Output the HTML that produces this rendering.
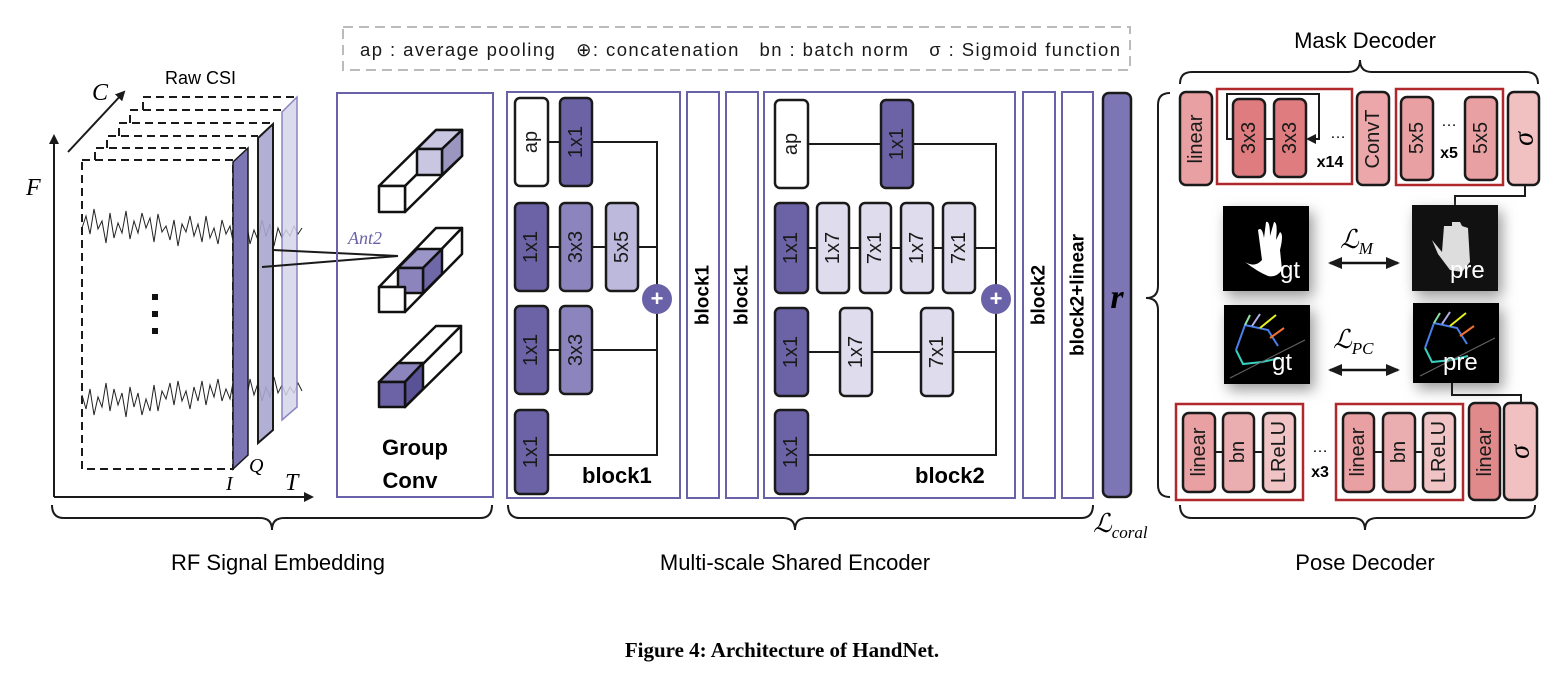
<!DOCTYPE html>
<html><head><meta charset="utf-8"><style>
html,body{margin:0;padding:0;background:#fff;}
svg{display:block;font-family:"Liberation Sans",sans-serif;}
.b{stroke:#1a1a1a;stroke-width:2.5;}
.t{font-size:20px;fill:#1a1a1a;}
.pb{fill:none;stroke:#6a62a8;stroke-width:2;}
.ln{stroke:#1a1a1a;stroke-width:2;fill:none;}
.br{fill:none;stroke:#1a1a1a;stroke-width:2;}
.rb{fill:none;stroke:#b0282c;stroke-width:2.5;}
</style></head><body>
<svg width="1561" height="687" viewBox="0 0 1561 687" xmlns="http://www.w3.org/2000/svg">
<defs>
<marker id="ah" markerWidth="10" markerHeight="10" refX="8" refY="5" orient="auto" markerUnits="userSpaceOnUse"><path d="M0,0 L10,5 L0,10 z" fill="#1a1a1a"/></marker>
<marker id="ah2" markerWidth="14" markerHeight="12" refX="12" refY="6" orient="auto-start-reverse" markerUnits="userSpaceOnUse"><path d="M0,0 L14,6 L0,12 z" fill="#1a1a1a"/></marker>
<filter id="sh" x="-40%" y="-40%" width="180%" height="180%"><feGaussianBlur stdDeviation="7"/></filter>
</defs>

<!-- legend -->
<rect x="343" y="27" width="787" height="43" fill="none" stroke="#bbb" stroke-width="2" stroke-dasharray="10,6"/>
<text x="360" y="56" font-size="18.5" fill="#1a1a1a" textLength="760" lengthAdjust="spacing">ap : average pooling &#160;&#160;⊕: concatenation &#160;&#160;bn : batch norm &#160;&#160;σ : Sigmoid function</text>

<!-- LEFT: RF signal embedding -->
<line x1="54" y1="497" x2="54" y2="136" class="ln" marker-end="url(#ah)"/>
<line x1="54" y1="497" x2="312" y2="497" class="ln" marker-end="url(#ah)"/>
<line x1="68" y1="152" x2="124" y2="92" class="ln" marker-end="url(#ah)"/>
<text x="26" y="195" font-family="Liberation Serif,serif" font-style="italic" font-size="24">F</text>
<text x="92" y="100" font-family="Liberation Serif,serif" font-style="italic" font-size="24">C</text>
<text x="285" y="490" font-family="Liberation Serif,serif" font-style="italic" font-size="24">T</text>
<text x="226" y="490" font-family="Liberation Serif,serif" font-style="italic" font-size="20">I</text>
<text x="249" y="472" font-family="Liberation Serif,serif" font-style="italic" font-size="20">Q</text>
<text x="165" y="84" font-size="18">Raw CSI</text>
<g fill="none" stroke="#1a1a1a" stroke-width="2" stroke-dasharray="8,5">
<path d="M95 160 V148 H246"/>
<path d="M107 148 V136 H258"/>
<path d="M119 136 V123 H270"/>
<path d="M130 123 V110 H282"/>
<path d="M143 110 V97 H295"/>
<rect x="82" y="160" width="151" height="309"/>
</g>
<path d="M82 228 l4 -12 l4 18 l4 -25 l4 20 l4 -8 l4 22 l4 -30 l4 25 l4 -15 l4 10 l4 -22 l4 28 l4 -18 l4 12 l4 -20 l4 15 l4 -10 l4 24 l4 -28 l4 18 l4 -6 l4 14 l4 -20 l4 26 l4 -22 l4 8 l4 -16 l4 20 l4 -12 l4 18 l4 -26 l4 22 l4 -10 l4 16 l4 -24 l4 14 l4 -8 l4 20 l4 -18 l4 12 l4 -22 l4 26 l4 -14 l4 10 l4 -20 l4 16 l4 -12 l4 22 l4 -18 l4 10 l4 -8 l4 6 l4 -10 l4 8 l4 -6" fill="none" stroke="#222" stroke-width="1"/>
<path d="M82 395 l4 14 l4 -20 l4 26 l4 -18 l4 10 l4 -24 l4 28 l4 -22 l4 16 l4 -12 l4 24 l4 -30 l4 20 l4 -14 l4 22 l4 -16 l4 12 l4 -26 l4 26 l4 -20 l4 8 l4 -16 l4 22 l4 -24 l4 20 l4 -10 l4 18 l4 -22 l4 14 l4 -20 l4 24 l4 -20 l4 12 l4 -18 l4 22 l4 -12 l4 10 l4 -22 l4 20 l4 -14 l4 20 l4 -24 l4 16 l4 -12 l4 18 l4 -14 l4 10 l4 -20 l4 16 l4 -8 l4 10 l4 -8 l4 6 l4 -10 l4 8" fill="none" stroke="#222" stroke-width="1"/>
<rect x="152" y="294" width="6" height="6" fill="#111"/>
<rect x="152" y="311" width="6" height="6" fill="#111"/>
<rect x="152" y="328" width="6" height="6" fill="#111"/>
<polygon points="282,112 297,97 297,407 282,420" fill="#d6d4ea" fill-opacity="0.85" stroke="#8a84c0" stroke-width="1.5"/>
<polygon points="258,138 273,124 273,430 258,443" fill="#aaa6d0" fill-opacity="0.9" stroke="#1a1a1a" stroke-width="2"/>
<polygon points="233,162 248,148 248,455 233,469" fill="#7d76b5" stroke="#1a1a1a" stroke-width="1.5"/>
<line x1="273" y1="250" x2="398" y2="256" stroke="#1a1a1a" stroke-width="2"/>
<line x1="262" y1="267" x2="398" y2="256" stroke="#1a1a1a" stroke-width="2"/>

<!-- Group conv -->
<rect x="337" y="93" width="156" height="404" class="pb"/>
<text x="348" y="244" font-family="Liberation Serif,serif" font-style="italic" font-size="18" fill="#6a62a8">Ant2</text>
<g stroke="#111" stroke-width="2.5" stroke-linejoin="round">
<polygon points="379,186 436,130 462,130 405,186" fill="#fff"/>
<polygon points="405,186 462,130 462,156 405,212" fill="#fff"/>
<polygon points="417,149 436,130 462,130 442,149" fill="#c9c6e2"/>
<polygon points="442,149 462,130 462,156 442,175" fill="#9a96c0"/>
<rect x="417" y="149" width="25" height="26" fill="#c9c6e2"/>
<rect x="379" y="186" width="26" height="26" fill="#fff"/>
<polygon points="379,287 436,228 462,228 405,287" fill="#fff"/>
<polygon points="405,287 462,228 462,254 405,312" fill="#fff"/>
<polygon points="398,268 417,249 442,249 423,268" fill="#9a96c8"/>
<polygon points="423,268 442,249 442,274 423,293" fill="#6f68a8"/>
<rect x="398" y="268" width="25" height="25" fill="#8c85bd"/>
<rect x="379" y="287" width="26" height="25" fill="#fff"/>
<polygon points="379,382 436,326 461,326 405,382" fill="#fff"/>
<polygon points="405,382 461,326 461,352 405,407" fill="#fff"/>
<polygon points="379,382 398,363 423,363 405,382" fill="#8c85bd"/>
<polygon points="405,382 423,363 423,389 405,407" fill="#5a5296"/>
<rect x="379" y="382" width="26" height="25" fill="#6b63a6"/>
</g>
<text x="415" y="455" text-anchor="middle" font-weight="bold" font-size="22">Group</text>
<text x="410" y="488" text-anchor="middle" font-weight="bold" font-size="22">Conv</text>

<!-- Block1 -->
<rect x="507" y="92" width="173" height="406" class="pb"/>
<g class="ln">
<path d="M592 142 H657 V455 H548"/>
<line x1="548" y1="247" x2="657" y2="247"/>
<line x1="548" y1="350" x2="657" y2="350"/>
<line x1="548" y1="142" x2="560" y2="142"/>
</g>
<g class="b">
<rect x="515" y="98" width="33" height="88" rx="5" fill="#fff"/>
<rect x="560" y="98" width="32" height="88" rx="5" fill="#6b63a6"/>
<rect x="515" y="203" width="33" height="88" rx="5" fill="#6b63a6"/>
<rect x="560" y="203" width="32" height="88" rx="5" fill="#8c85bd"/>
<rect x="606" y="203" width="32" height="88" rx="5" fill="#bdb9dc"/>
<rect x="515" y="306" width="33" height="88" rx="5" fill="#6b63a6"/>
<rect x="560" y="306" width="32" height="88" rx="5" fill="#8c85bd"/>
<rect x="515" y="410" width="33" height="84" rx="5" fill="#6b63a6"/>
</g>
<circle cx="657" cy="299" r="15" fill="#6a62a8"/>
<text x="657" y="306" text-anchor="middle" fill="#fff" font-size="22" font-weight="bold">+</text>
<g class="t" text-anchor="middle" dominant-baseline="central">
<text transform="translate(531,142) rotate(-90)">ap</text>
<text transform="translate(576,142) rotate(-90)">1x1</text>
<text transform="translate(531,247) rotate(-90)">1x1</text>
<text transform="translate(576,247) rotate(-90)">3x3</text>
<text transform="translate(622,247) rotate(-90)">5x5</text>
<text transform="translate(531,350) rotate(-90)">1x1</text>
<text transform="translate(576,350) rotate(-90)">3x3</text>
<text transform="translate(531,452) rotate(-90)">1x1</text>
</g>
<text x="582" y="483" font-weight="bold" font-size="22">block1</text>

<rect x="687" y="92" width="32" height="406" class="pb"/>
<rect x="726" y="92" width="32" height="406" class="pb"/>
<text transform="translate(703,295) rotate(-90)" text-anchor="middle" dominant-baseline="central" font-weight="bold" font-size="19">block1</text>
<text transform="translate(742,295) rotate(-90)" text-anchor="middle" dominant-baseline="central" font-weight="bold" font-size="19">block1</text>

<!-- Block2 -->
<rect x="764" y="92" width="251" height="406" class="pb"/>
<g class="ln">
<path d="M808 144 H881 M913 144 H996 V455 H808"/>
<line x1="808" y1="248" x2="996" y2="248"/>
<line x1="808" y1="352" x2="996" y2="352"/>
</g>
<g class="b">
<rect x="775" y="100" width="33" height="88" rx="5" fill="#fff"/>
<rect x="881" y="100" width="32" height="88" rx="5" fill="#6b63a6"/>
<rect x="775" y="203" width="33" height="90" rx="5" fill="#6b63a6"/>
<rect x="817" y="203" width="32" height="90" rx="5" fill="#dfdded"/>
<rect x="860" y="203" width="31" height="90" rx="5" fill="#dfdded"/>
<rect x="901" y="203" width="32" height="90" rx="5" fill="#dfdded"/>
<rect x="943" y="203" width="32" height="90" rx="5" fill="#dfdded"/>
<rect x="775" y="308" width="33" height="88" rx="5" fill="#6b63a6"/>
<rect x="840" y="308" width="32" height="88" rx="5" fill="#dfdded"/>
<rect x="921" y="308" width="32" height="88" rx="5" fill="#dfdded"/>
<rect x="775" y="410" width="33" height="84" rx="5" fill="#6b63a6"/>
</g>
<circle cx="996" cy="299" r="15" fill="#6a62a8"/>
<text x="996" y="306" text-anchor="middle" fill="#fff" font-size="22" font-weight="bold">+</text>
<g class="t" text-anchor="middle" dominant-baseline="central">
<text transform="translate(791,144) rotate(-90)">ap</text>
<text transform="translate(897,144) rotate(-90)">1x1</text>
<text transform="translate(791,248) rotate(-90)">1x1</text>
<text transform="translate(833,248) rotate(-90)">1x7</text>
<text transform="translate(875,248) rotate(-90)">7x1</text>
<text transform="translate(917,248) rotate(-90)">1x7</text>
<text transform="translate(959,248) rotate(-90)">7x1</text>
<text transform="translate(791,352) rotate(-90)">1x1</text>
<text transform="translate(856,352) rotate(-90)">1x7</text>
<text transform="translate(937,352) rotate(-90)">7x1</text>
<text transform="translate(791,452) rotate(-90)">1x1</text>
</g>
<text x="915" y="483" font-weight="bold" font-size="22">block2</text>

<rect x="1023" y="92" width="32" height="406" class="pb"/>
<rect x="1062" y="92" width="31" height="406" class="pb"/>
<text transform="translate(1039,295) rotate(-90)" text-anchor="middle" dominant-baseline="central" font-weight="bold" font-size="19">block2</text>
<text transform="translate(1078,295) rotate(-90)" text-anchor="middle" dominant-baseline="central" font-weight="bold" font-size="19">block2+linear</text>

<!-- r bar -->
<rect x="1103" y="93" width="28" height="404" rx="6" fill="#7d76b5" stroke="#1a1a1a" stroke-width="2.5"/>
<text x="1117" y="308" text-anchor="middle" font-family="Liberation Serif,serif" font-style="italic" font-weight="bold" font-size="34">r</text>
<text x="1093" y="532" font-family="Liberation Serif,serif" font-style="italic" font-size="26">ℒ<tspan font-size="17" dy="6">coral</tspan></text>

<!-- Right panel braces -->
<path class="br" d="M1180 84 Q1180 72 1192 72 L1348 72 Q1360 72 1360 60 Q1360 72 1372 72 L1526 72 Q1538 72 1538 84"/>
<text x="1365" y="48" text-anchor="middle" font-size="22">Mask Decoder</text>
<path class="br" d="M1170 93 Q1158 93 1158 105 L1158 286 Q1158 298 1146 298 Q1158 298 1158 310 L1158 485 Q1158 497 1170 497"/>

<!-- Top row mask decoder -->
<rect x="1217" y="89" width="135" height="95" class="rb"/>
<rect x="1396" y="89" width="107" height="96" class="rb"/>
<g class="b">
<rect x="1180" y="92" width="32" height="93" rx="6" fill="#e8a0a2"/>
<rect x="1233" y="99" width="32" height="78" rx="6" fill="#de7c7f"/>
<rect x="1274" y="99" width="32" height="78" rx="6" fill="#de7c7f"/>
<rect x="1357" y="92" width="32" height="93" rx="6" fill="#eba7a9"/>
<rect x="1401" y="97" width="32" height="83" rx="6" fill="#e8a0a2"/>
<rect x="1465" y="97" width="32" height="83" rx="6" fill="#e8a0a2"/>
<rect x="1508" y="92" width="31" height="93" rx="6" fill="#f1c0c1"/>
</g>
<path d="M1233 139 H1227 V94 H1319 V139 H1308" fill="none" stroke="#1a1a1a" stroke-width="2" marker-end="url(#ah)"/>
<line x1="1265" y1="139" x2="1274" y2="139" class="ln"/>
<text x="1338" y="138" text-anchor="middle" font-size="16">…</text>
<text x="1330" y="167" text-anchor="middle" font-weight="bold" font-size="16">x14</text>
<text x="1449" y="126" text-anchor="middle" font-size="16">…</text>
<text x="1449" y="158" text-anchor="middle" font-weight="bold" font-size="16">x5</text>
<g class="t" text-anchor="middle" dominant-baseline="central">
<text transform="translate(1196,139) rotate(-90)">linear</text>
<text transform="translate(1249,138) rotate(-90)">3x3</text>
<text transform="translate(1290,138) rotate(-90)">3x3</text>
<text transform="translate(1373,139) rotate(-90)">ConvT</text>
<text transform="translate(1417,138) rotate(-90)">5x5</text>
<text transform="translate(1481,138) rotate(-90)">5x5</text>
</g>
<text transform="translate(1524,139) rotate(-90)" text-anchor="middle" dominant-baseline="central" font-family="Liberation Serif,serif" font-style="italic" font-size="28">σ</text>
<path d="M1525 185 V196 H1455 V206" class="ln"/>

<!-- images -->
<g filter="url(#sh)" fill="#999">
<rect x="1227" y="212" width="86" height="85"/>
<rect x="1416" y="211" width="86" height="86"/>
<rect x="1228" y="311" width="86" height="79"/>
<rect x="1417" y="309" width="86" height="80"/>
</g>
<rect x="1223" y="206" width="86" height="85" fill="#000"/>
<path d="M1245 262 Q1255 268 1262 260 L1258 230 Q1262 226 1264 238 L1266 222 Q1270 220 1270 236 L1274 222 Q1278 222 1276 240 L1280 232 Q1284 234 1280 250 L1282 270 Q1276 278 1268 276 Q1258 272 1245 262 Z" fill="#fff"/>
<text x="1280" y="278" fill="#fff" font-size="24">gt</text>
<rect x="1412" y="205" width="86" height="86" fill="#111"/>
<path d="M1432 240 L1442 252 L1444 226 L1452 226 L1452 222 L1460 222 L1462 226 L1468 228 L1470 262 L1462 272 L1450 270 L1438 254 Z" fill="#ddd"/>
<text x="1450" y="278" fill="#fff" font-size="24">pre</text>
<text x="1340" y="248" font-family="Liberation Serif,serif" font-style="italic" font-size="26">ℒ<tspan font-size="17" dy="6" font-style="italic">M</tspan></text>
<line x1="1330" y1="263" x2="1398" y2="263" stroke="#111" stroke-width="2.5" marker-start="url(#ah2)" marker-end="url(#ah2)"/>
<rect x="1224" y="305" width="86" height="79" fill="#000"/>
<g stroke-width="2" fill="none">
<path d="M1236 350 L1243 364 L1262 362 L1280 358" stroke="#3ad0c0"/>
<path d="M1236 350 L1245 325 L1268 330 L1278 346" stroke="#4a7fe8"/>
<path d="M1245 325 L1250 315" stroke="#8fe0a0"/>
<path d="M1252 326 L1260 314" stroke="#b0b0e8"/>
<path d="M1260 328 L1276 315" stroke="#e8f020"/>
<path d="M1270 338 L1284 328" stroke="#f07030"/>
<line x1="1230" y1="378" x2="1305" y2="340" stroke="#666" stroke-width="1"/>
</g>
<text x="1272" y="370" fill="#fff" font-size="24">gt</text>
<rect x="1413" y="303" width="86" height="80" fill="#000"/>
<g stroke-width="2" fill="none">
<path d="M1425 348 L1432 362 L1452 360 L1468 356" stroke="#3ad0c0"/>
<path d="M1425 348 L1434 323 L1457 328 L1467 344" stroke="#4a7fe8"/>
<path d="M1434 323 L1440 313" stroke="#8fe0a0"/>
<path d="M1442 324 L1450 312" stroke="#b0b0e8"/>
<path d="M1450 326 L1466 313" stroke="#e8f020"/>
<path d="M1460 336 L1474 326" stroke="#f07030"/>
<line x1="1420" y1="376" x2="1495" y2="338" stroke="#666" stroke-width="1"/>
</g>
<text x="1443" y="370" fill="#fff" font-size="24">pre</text>
<text x="1333" y="348" font-family="Liberation Serif,serif" font-style="italic" font-size="26">ℒ<tspan font-size="17" dy="6">PC</tspan></text>
<line x1="1330" y1="370" x2="1398" y2="370" stroke="#111" stroke-width="2.5" marker-start="url(#ah2)" marker-end="url(#ah2)"/>
<path d="M1452 383 V395 H1521 V403" class="ln"/>

<!-- bottom row pose decoder -->
<rect x="1176" y="404" width="127" height="96" class="rb"/>
<rect x="1336" y="404" width="127" height="96" class="rb"/>
<line x1="1215" y1="452" x2="1263" y2="452" class="ln"/>
<line x1="1374" y1="452" x2="1423" y2="452" class="ln"/>
<g class="b">
<rect x="1183" y="413" width="32" height="79" rx="6" fill="#e8a0a2"/>
<rect x="1223" y="413" width="31" height="79" rx="6" fill="#ebaeb0"/>
<rect x="1263" y="413" width="32" height="79" rx="6" fill="#f0c4c5"/>
<rect x="1343" y="413" width="31" height="79" rx="6" fill="#e8a0a2"/>
<rect x="1383" y="413" width="32" height="79" rx="6" fill="#ebaeb0"/>
<rect x="1423" y="413" width="32" height="79" rx="6" fill="#f0c4c5"/>
<rect x="1469" y="403" width="31" height="97" rx="6" fill="#e08a8c"/>
<rect x="1504" y="403" width="33" height="97" rx="6" fill="#f1c0c1"/>
</g>
<g class="t" text-anchor="middle" dominant-baseline="central">
<text transform="translate(1199,452) rotate(-90)">linear</text>
<text transform="translate(1238,452) rotate(-90)">bn</text>
<text transform="translate(1279,452) rotate(-90)">LReLU</text>
<text transform="translate(1358,452) rotate(-90)">linear</text>
<text transform="translate(1399,452) rotate(-90)">bn</text>
<text transform="translate(1439,452) rotate(-90)">LReLU</text>
<text transform="translate(1485,452) rotate(-90)">linear</text>
</g>
<text transform="translate(1520,452) rotate(-90)" text-anchor="middle" dominant-baseline="central" font-family="Liberation Serif,serif" font-style="italic" font-size="28">σ</text>
<text x="1320" y="452" text-anchor="middle" font-size="16">…</text>
<text x="1320" y="477" text-anchor="middle" font-weight="bold" font-size="16">x3</text>

<!-- bottom braces -->
<path class="br" d="M52 505 Q52 518 64 518 L260 518 Q272 518 272 530 Q272 518 284 518 L480 518 Q492 518 492 505"/>
<text x="278" y="570" text-anchor="middle" font-size="22">RF Signal Embedding</text>
<path class="br" d="M508 505 Q508 518 520 518 L783 518 Q795 518 795 530 Q795 518 807 518 L1081 518 Q1093 518 1093 505"/>
<text x="795" y="570" text-anchor="middle" font-size="22">Multi-scale Shared Encoder</text>
<path class="br" d="M1180 505 Q1180 518 1192 518 L1353 518 Q1365 518 1365 530 Q1365 518 1377 518 L1523 518 Q1535 518 1535 505"/>
<text x="1365" y="570" text-anchor="middle" font-size="22">Pose Decoder</text>

<text x="782" y="657" text-anchor="middle" font-family="Liberation Serif,serif" font-weight="bold" font-size="21">Figure 4: Architecture of HandNet.</text>
</svg>
</body></html>
